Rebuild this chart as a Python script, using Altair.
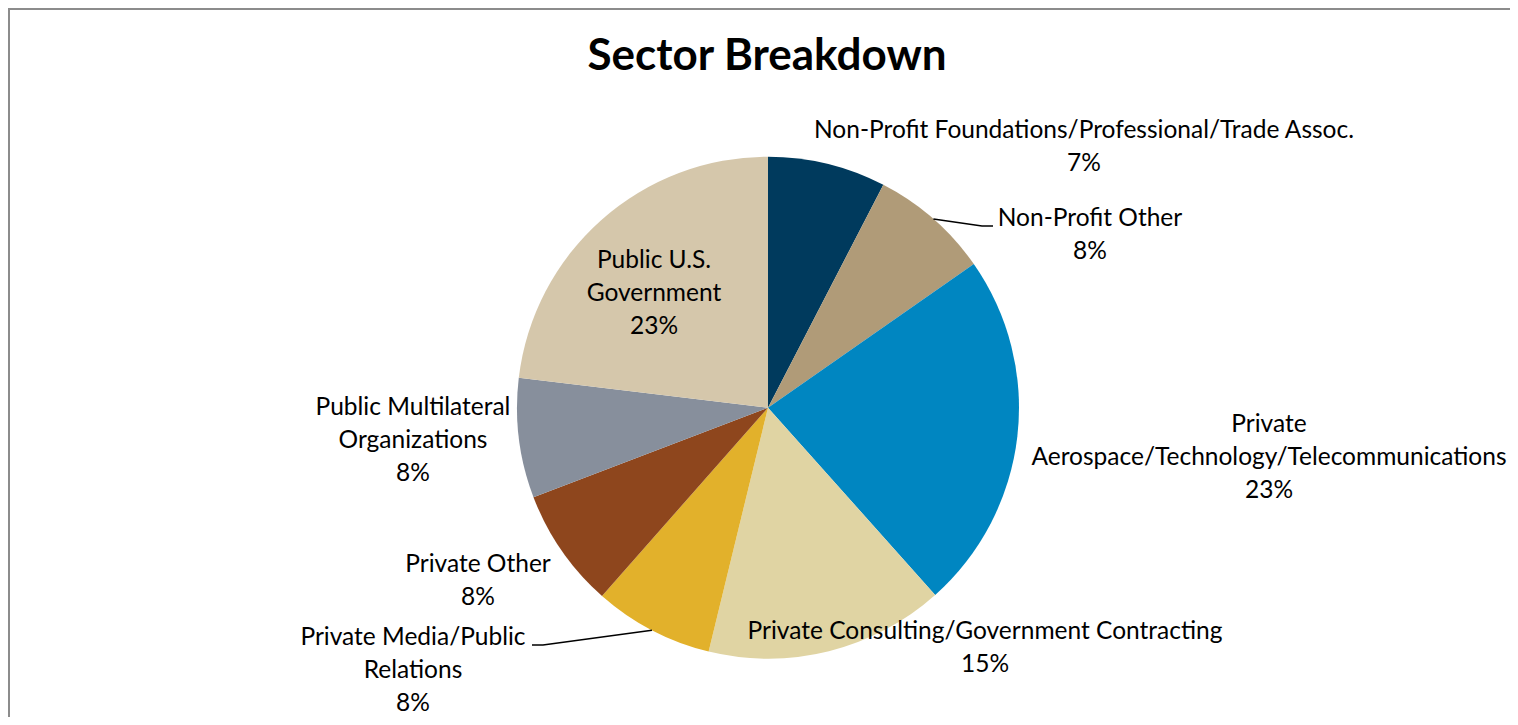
import math
import altair as alt
import pandas as pd

# ---- data ----
sectors = [
    "Non-Profit Foundations/Professional/Trade Assoc.",
    "Non-Profit Other",
    "Private Aerospace/Technology/Telecommunications",
    "Private Consulting/Government Contracting",
    "Private Media/Public Relations",
    "Private Other",
    "Public Multilateral Organizations",
    "Public U.S. Government",
]
shares = [7.6, 7.7, 23.1, 15.4, 7.7, 7.7, 7.7, 23.1]
pct_labels = ["7%", "8%", "23%", "15%", "8%", "8%", "8%", "23%"]
label_lines = [
    ["Non-Profit Foundations/Professional/Trade Assoc."],
    ["Non-Profit Other"],
    ["Private", "Aerospace/Technology/Telecommunications"],
    ["Private Consulting/Government Contracting"],
    ["Private Media/Public", "Relations"],
    ["Private Other"],
    ["Public Multilateral", "Organizations"],
    ["Public U.S.", "Government"],
]
colors = ["#003A5D", "#B09B78", "#0086C1", "#E0D4A3",
          "#E2B12B", "#8E461D", "#878F9C", "#D5C7AB"]

# ---- layout (pixels in plot area) ----
W, H = 1502, 709
CX, CY, R = 760, 399.7, 251
label_x = [1076, 1082, 1261, 977, 405, 470, 405, 646]
label_y = [130, 218, 424, 631, 637, 564, 407, 260]
leader_end = {1: [(974, 218), (985, 218)], 4: [(535, 637), (524, 637)]}

FONT = "Lato"

df = pd.DataFrame({
    "sector": sectors,
    "value": shares,
    "idx": list(range(len(sectors))),
})

lab = pd.DataFrame({
    "text": [lines + [p] for lines, p in zip(label_lines, pct_labels)],
    "lx": label_x,
    "ly": label_y,
})
lab["text"] = lab["text"].apply(lambda l: "\n".join(l))

# leader lines: start at slice mid-angle on the rim
total = sum(shares)
rows = []
cum = 0.0
mids = []
for v in shares:
    mids.append((cum + v / 2) / total * 2 * math.pi)
    cum += v
for i, ends in leader_end.items():
    a = mids[i]
    pts = [(CX + R * math.sin(a), CY - R * math.cos(a))] + ends
    for k, (px, py) in enumerate(pts):
        rows.append({"line": i, "k": k, "px": px, "py": py})
lead = pd.DataFrame(rows)

pie = alt.Chart(df).mark_arc(radius=R).encode(
    theta=alt.Theta("value:Q", stack=True),
    color=alt.Color("sector:N", scale=alt.Scale(domain=sectors, range=colors), legend=None),
    order=alt.Order("idx:Q"),
    x=alt.value(CX),
    y=alt.value(CY),
)

labels = alt.Chart(lab).mark_text(
    font=FONT, fontSize=24.5, color="#000000", align="center",
    baseline="alphabetic", lineBreak="\n", lineHeight=33,
).encode(
    x=alt.X("lx:Q", scale=None, axis=None),
    y=alt.Y("ly:Q", scale=None, axis=None),
    text="text:N",
)

leaders = alt.Chart(lead).mark_line(color="#000000", strokeWidth=1.5).encode(
    x=alt.X("px:Q", scale=None, axis=None),
    y=alt.Y("py:Q", scale=None, axis=None),
    detail="line:N",
    order="k:Q",
)

title = alt.Chart(pd.DataFrame({"t": ["Sector Breakdown"]})).mark_text(
    font=FONT, fontSize=44, fontWeight="bold", color="#000000",
    align="center", baseline="alphabetic",
).encode(x=alt.value(767 - 8), y=alt.value(62), text="t:N")

border_top = alt.Chart(pd.DataFrame({"a": [0]})).mark_rule(
    color="#8C8C8C", strokeWidth=2
).encode(x=alt.value(0), x2=alt.value(W + 20), y=alt.value(1))
border_left = alt.Chart(pd.DataFrame({"a": [0]})).mark_rule(
    color="#8C8C8C", strokeWidth=2
).encode(x=alt.value(1), y=alt.value(0), y2=alt.value(H + 20))

chart = alt.layer(border_top, border_left, pie, leaders, labels, title).properties(
    width=W, height=H, padding=0,
    autosize=alt.AutoSizeParams(type="none"),
).configure(background="white").configure_view(stroke="transparent", strokeWidth=0)

chart.save("out.html", embed_options={"renderer": "svg", "actions": False})
